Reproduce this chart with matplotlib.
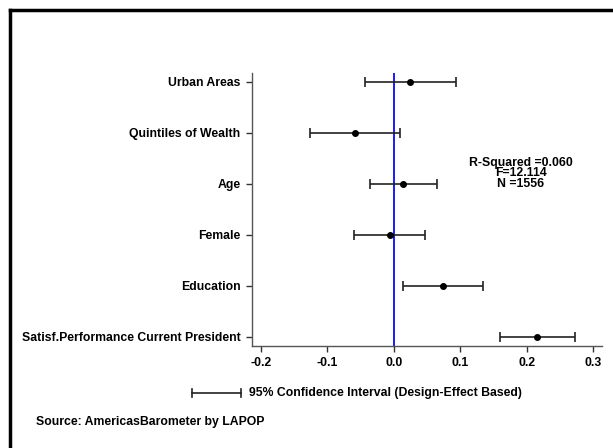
import matplotlib.pyplot as plt
from matplotlib.lines import Line2D

plt.rcParams['font.family'] = ['Liberation Sans', 'DejaVu Sans']
plt.rcParams['font.weight'] = 'bold'

variables = ['Urban Areas', 'Quintiles of Wealth', 'Age', 'Female',
             'Education', 'Satisf.Performance Current President']
coefs = [0.0245, -0.0586, 0.0135, -0.0065, 0.0733, 0.2160]
ci_low = [-0.044, -0.126, -0.036, -0.0597, 0.0135, 0.160]
ci_high = [0.093, 0.0085, 0.0647, 0.0466, 0.134, 0.2718]
xticks = [-0.2, -0.1, 0.0, 0.1, 0.2, 0.3]
stats_lines = ['R-Squared =0.060', 'F=12.114', 'N =1556']

W, H = 613, 448
fs = 8.8

fig = plt.figure(figsize=(W / 100, H / 100), dpi=100)
ax = fig.add_axes([0.4106, 0.2277, 0.5714, 0.61])

ypos = list(range(len(variables)))
err_lo = [c - l for c, l in zip(coefs, ci_low)]
err_hi = [h - c for c, h in zip(coefs, ci_high)]
ax.errorbar(coefs, ypos, xerr=[err_lo, err_hi], fmt='o', color='black',
            ecolor='#222222', elinewidth=1.2, capsize=3.5, capthick=1.2,
            markersize=4, zorder=3)
ax.axvline(0, color='#1a1aff', lw=1.4, zorder=2)

ax.set_ylim(len(variables) - 1 + 0.18, -0.18)
ax.set_xlim(-0.214, 0.313)
ax.set_yticks(ypos)
ax.set_yticklabels(variables, fontsize=fs, fontweight='bold')
ax.set_xticks(xticks)
ax.set_xticklabels([f'{t:.1f}' for t in xticks], fontsize=fs, fontweight='bold')
for s in ['top', 'right']:
    ax.spines[s].set_visible(False)
for s in ['left', 'bottom']:
    ax.spines[s].set_color('#555555')
    ax.spines[s].set_linewidth(1.0)
ax.tick_params(length=4, width=1, color='#333333', pad=4)

# regression statistics, tightly stacked
fig.text(521 / W, 1 - 173.5 / H, '\n'.join(stats_lines), ha='center',
         va='center', fontsize=fs, fontweight='bold', linespacing=0.82)

# confidence interval key
fig.add_artist(Line2D([191.7 / W, 241 / W], [1 - 392.7 / H] * 2,
                      color='#222222', lw=1.2))
for xp in (191.7, 241):
    fig.add_artist(Line2D([xp / W] * 2, [1 - 389 / H, 1 - 396.5 / H],
                          color='#222222', lw=1.2))
fig.text(249 / W, 1 - 392.7 / H, '95% Confidence Interval (Design-Effect Based)',
         ha='left', va='center', fontsize=fs, fontweight='bold')
fig.text(36 / W, 1 - 422 / H, 'Source: AmericasBarometer by LAPOP',
         ha='left', va='center', fontsize=fs, fontweight='bold')

# outer frame
fig.add_artist(Line2D([10 / W, 10 / W], [0, 1 - 10 / H], color='black', lw=2.5))
fig.add_artist(Line2D([10 / W, 1], [1 - 10 / H, 1 - 10 / H], color='black', lw=2.5))

fig.savefig('out.png', dpi=100)
